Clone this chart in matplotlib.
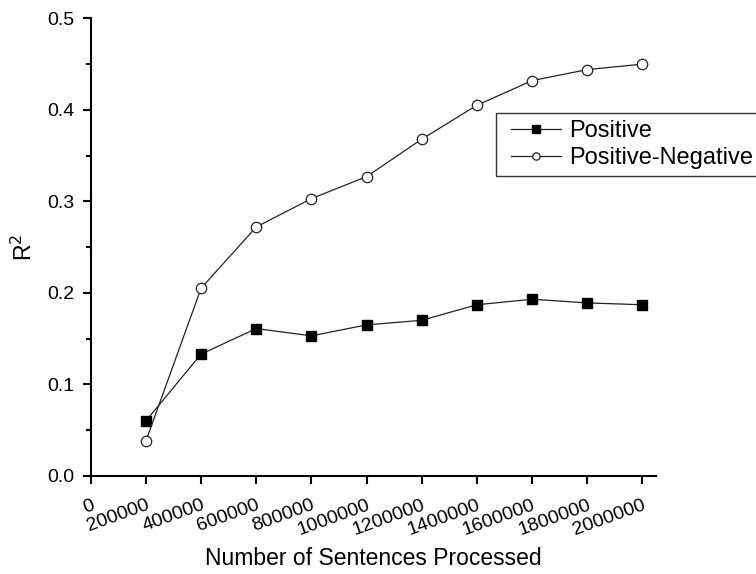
import matplotlib
matplotlib.use('Agg')
import matplotlib.pyplot as plt
from matplotlib.ticker import MultipleLocator
from matplotlib.legend_handler import HandlerLine2D

plt.rcParams['font.family'] = ['Liberation Sans', 'DejaVu Sans']

sentences = [200000, 400000, 600000, 800000, 1000000, 1200000, 1400000, 1600000, 1800000, 2000000]
positive = [0.060, 0.133, 0.161, 0.153, 0.165, 0.170, 0.187, 0.193, 0.189, 0.187]
pos_neg = [0.038, 0.205, 0.272, 0.303, 0.327, 0.368, 0.405, 0.432, 0.444, 0.450]
xticks = [0, 200000, 400000, 600000, 800000, 1000000, 1200000, 1400000, 1600000, 1800000, 2000000]

fig = plt.figure(figsize=(7.56, 5.74), dpi=100)
ax = fig.add_axes([0.12, 0.171, 0.748, 0.797])

l1, = ax.plot(sentences, positive, color='#222222', lw=0.9, marker='s', ms=7.5,
              mfc='black', mec='black', label='Positive')
l2, = ax.plot(sentences, pos_neg, color='#222222', lw=0.9, marker='o', ms=7.5,
              mfc='white', mec='#222222', mew=0.9, label='Positive-Negative')

ax.set_xlim(0, 2.05e6)
ax.set_ylim(0, 0.5)
ax.set_xticks(xticks)
ax.set_xticklabels([str(v) for v in xticks], rotation=20, ha='right',
                   rotation_mode='anchor')
ax.yaxis.set_major_locator(MultipleLocator(0.1))
ax.yaxis.set_minor_locator(MultipleLocator(0.05))
ax.set_yticklabels(['%.1f' % v for v in ax.get_yticks()])

for s in ['top', 'right']:
    ax.spines[s].set_visible(False)
for s in ['left', 'bottom']:
    ax.spines[s].set_linewidth(1.5)
ax.tick_params(axis='both', which='major', direction='out', length=6, width=1.5,
               labelsize=14)
ax.tick_params(axis='x', which='major', pad=9)
ax.tick_params(axis='y', which='major', pad=6)
ax.tick_params(axis='y', which='minor', direction='out', length=3.5, width=1.5)

ax.set_xlabel('Number of Sentences Processed', fontsize=16.5, labelpad=6)
ax.set_ylabel('R$^2$', fontsize=16.5, labelpad=7)

# legend frame runs off the right edge of the figure
handler = HandlerLine2D(xpad=0.35)
leg = fig.legend(handles=[l1, l2], loc='upper left', bbox_to_anchor=(0.656, 0.803),
                 bbox_transform=fig.transFigure, fontsize=17, frameon=True,
                 fancybox=False, borderaxespad=0, handlelength=2.45,
                 labelspacing=0.2, borderpad=0.3, handletextpad=0.35,
                 markerscale=0.7, handler_map={l1: handler, l2: handler})
leg.get_frame().set_edgecolor('black')
leg.get_frame().set_linewidth(1.0)

fig.savefig('out.png', dpi=100)
